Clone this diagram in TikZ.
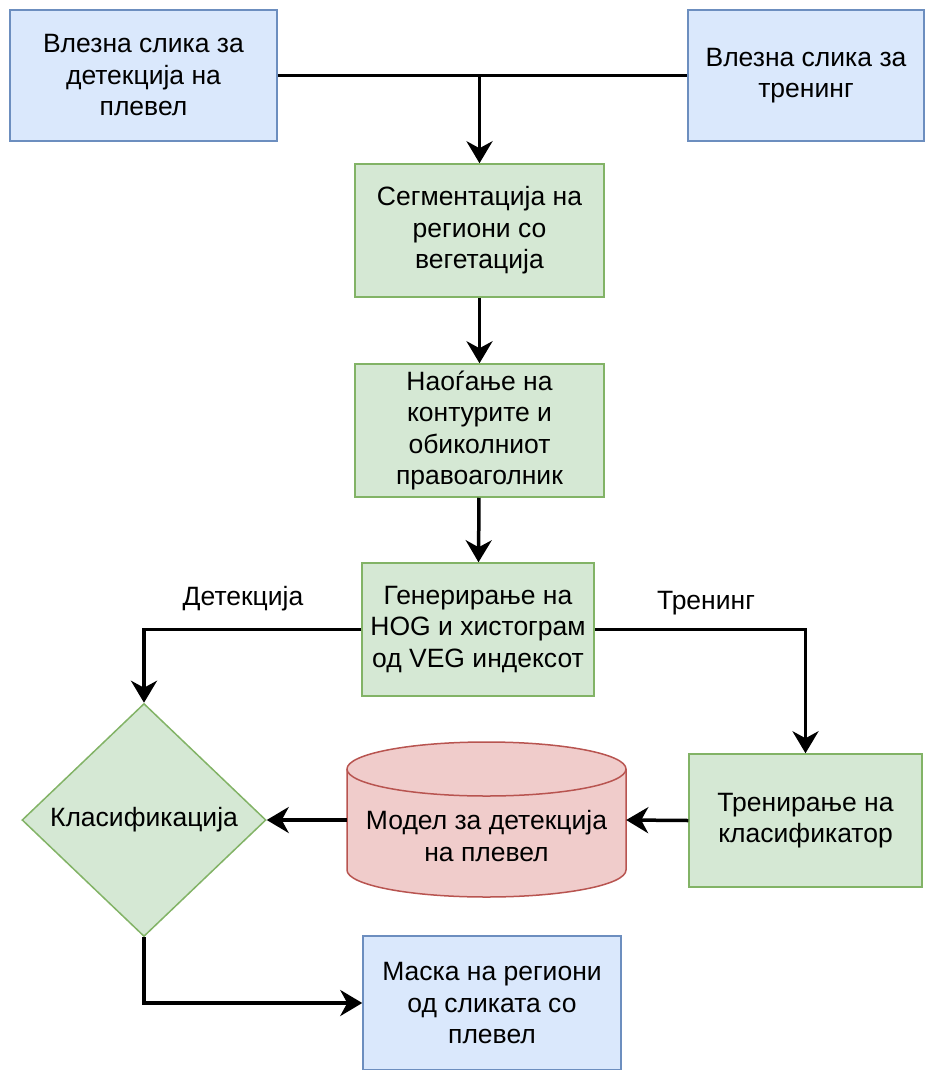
\documentclass[tikz,border=0pt]{standalone}
\usepackage{fontspec}
\setmainfont{Liberation Sans}
\usetikzlibrary{arrows.meta,shapes.geometric}

\definecolor{bluefill}{HTML}{DAE8FC}
\definecolor{blueline}{HTML}{6C8EBF}
\definecolor{greenfill}{HTML}{D5E8D4}
\definecolor{greenline}{HTML}{82B366}
\definecolor{redfill}{HTML}{F0CCCB}
\definecolor{redline}{HTML}{B85450}

\tikzset{
  base/.style={align=center,inner sep=0pt,line width=1.5pt,
               font=\fontsize{26.5}{31.5}\selectfont},
  inbox/.style={base,rectangle,draw=blueline,fill=bluefill},
  stepbox/.style={base,rectangle,draw=greenline,fill=greenfill},
  decide/.style={base,diamond,draw=greenline,fill=greenfill},
  flow/.style={line width=3.5pt,-{Stealth[length=22pt,width=26pt,inset=7pt]}},
  plain/.style={line width=3.5pt},
  lbl/.style={font=\fontsize{26.5}{31.5}\selectfont}
}

\begin{document}
\begin{tikzpicture}[x=1pt,y=1pt]
  \useasboundingbox (0,0) rectangle (924,-1070);

  \node[inbox,minimum width=267pt,minimum height=131pt] (imgdet) at (143.5,-75.5)
    {Влезна слика за\\детекција на\\плевел};
  \node[inbox,minimum width=236pt,minimum height=131pt] (imgtrain) at (806,-75.5)
    {Влезна слика за\\тренинг};
  \node[stepbox,minimum width=249pt,minimum height=133pt] (segment) at (479.5,-230.5)
    {Сегментација на\\региони со\\вегетација};
  \node[stepbox,minimum width=249pt,minimum height=133pt] (contours) at (479.5,-430.5)
    {Наоѓање на\\контурите и\\обиколниот\\правоаголник};
  \node[stepbox,minimum width=232pt,minimum height=133pt] (hog) at (478,-629.5)
    {Генерирање на\\HOG и хистограм\\од VEG индексот};
  \node[decide,minimum width=244pt,minimum height=233pt] (classify) at (144,-820)
    {Класификација};
  \node[stepbox,minimum width=233pt,minimum height=133pt] (trainer) at (805.5,-820.5)
    {Тренирање на\\класификатор};
  \node[inbox,minimum width=258pt,minimum height=134pt] (mask) at (492,-1003)
    {Маска на региони\\од сликата со\\плевел};

  % model database
  \draw[line width=1.5pt,draw=redline,fill=redfill]
    (347,-769) -- (347,-870) arc[start angle=180,end angle=360,x radius=139.5,y radius=27]
    -- (626,-769) arc[start angle=0,end angle=180,x radius=139.5,y radius=27] -- cycle;
  \draw[line width=1.5pt,draw=redline]
    (347,-769) arc[start angle=180,end angle=360,x radius=139.5,y radius=27];
  \node[minimum width=279pt,minimum height=156pt,inner sep=0pt] (model) at (486.5,-820) {};
  \node[base] (modeltext) at (486.5,-836) {Модел за детекција\\на плевел};

  \node[lbl] (lbldet) at (243,-599) {Детекција};
  \node[lbl] (lbltrain) at (706,-603) {Тренинг};

  \draw[plain] (imgdet.east) -- (imgtrain.west);
  \draw[flow] (imgdet.east -| segment.north) -- (segment.north);
  \draw[flow] (segment) -- (contours);
  \draw[flow] (contours) -- (hog);
  \draw[flow] (hog.west) -| (classify.north);
  \draw[flow] (hog.east) -| (trainer.north);
  \draw[flow] (trainer.west) -- (model.east);
  \draw[flow] (model.west) -- (classify.east);
  \draw[flow] (classify.south) |- (mask.west);
\end{tikzpicture}
\end{document}
